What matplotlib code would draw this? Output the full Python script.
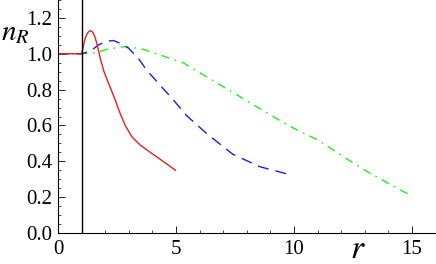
import matplotlib
matplotlib.use("Agg")
import matplotlib.pyplot as plt
from matplotlib.ticker import MultipleLocator

red_r = [0, 1.0, 1.07, 1.14, 1.21, 1.28, 1.34, 1.40, 1.47, 1.55, 1.63, 1.72, 1.82, 1.95, 2.1, 2.28, 2.43, 2.64, 2.85, 3.14, 3.49, 3.91, 4.4, 4.98]
red_n = [1.0, 1.0, 1.04, 1.08, 1.105, 1.12, 1.127, 1.128, 1.12, 1.10, 1.065, 1.015, 0.96, 0.9, 0.85, 0.79, 0.74, 0.665, 0.60, 0.535, 0.49, 0.45, 0.405, 0.35]

blue_r = [0, 1.0, 1.2, 1.43, 1.72, 2.07, 2.35, 2.7, 3.0, 3.4, 3.77, 4.27, 4.84, 5.45, 6.3, 7.4, 8.55, 9.7]
blue_n = [1.0, 1.0, 1.008, 1.02, 1.05, 1.07, 1.074, 1.055, 1.03, 0.975, 0.907, 0.833, 0.75, 0.655, 0.555, 0.44, 0.37, 0.33]

green_r = [0, 1.0, 1.57, 2.14, 2.85, 3.56, 4.4, 5.33, 6.0, 6.7, 7.4, 8.1, 8.8, 9.5, 10.2, 11.0, 11.7, 12.4, 13.2, 14.1, 15.0]
green_n = [1.0, 1.0, 1.005, 1.027, 1.04, 1.027, 0.99, 0.948, 0.895, 0.84, 0.785, 0.73, 0.675, 0.62, 0.57, 0.52, 0.46, 0.40, 0.335, 0.27, 0.205]

x_ticks = [0, 5, 10, 15]
y_ticks = [0.0, 0.2, 0.4, 0.6, 0.8, 1.0, 1.2]

fig = plt.figure(figsize=(4.36, 2.64), dpi=100)
ax = fig.add_axes([58/436, 31/264, 1 - 58/436 - 0.001, 1 - 31/264])

ax.plot(green_r, green_n, color=(0.1, 0.95, 0.1), lw=1.0, dashes=(6, 4, 1.2, 4))
ax.plot(blue_r, blue_n, color=(0.1, 0.1, 0.95), lw=1.0, dashes=(8, 5))
ax.plot(red_r, red_n, color=(0.95, 0.1, 0.1), lw=1.0)
ax.axvline(1.0, color='black', lw=1.0)

ax.set_xlim(0, 16)
ax.set_ylim(0, 1.3)
for s in ['top', 'right']:
    ax.spines[s].set_visible(False)
for s in ['left', 'bottom']:
    ax.spines[s].set_linewidth(0.8)

ax.set_xticks(x_ticks)
ax.set_yticks(y_ticks)
ax.set_yticklabels([f"{v:.1f}" for v in y_ticks])
ax.xaxis.set_minor_locator(MultipleLocator(1))
ax.yaxis.set_minor_locator(MultipleLocator(0.05))
ax.tick_params(which='both', direction='in')
ax.tick_params(which='major', length=5, width=0.6, labelsize=15, pad=4)
ax.tick_params(axis='x', which='major', pad=5)
ax.tick_params(which='minor', length=2.5, width=0.5)
for lab in ax.get_xticklabels() + ax.get_yticklabels():
    lab.set_family('Liberation Serif')

fig.text(0.002, 1 - 40/264, r'$n_R$', fontsize=21,
         math_fontfamily='stix', ha='left', va='baseline')
fig.text(350/436, 1 - 258/264, r'$r$', fontsize=24, math_fontfamily='stix', ha='left', va='baseline')

fig.savefig("out.png", dpi=100)
